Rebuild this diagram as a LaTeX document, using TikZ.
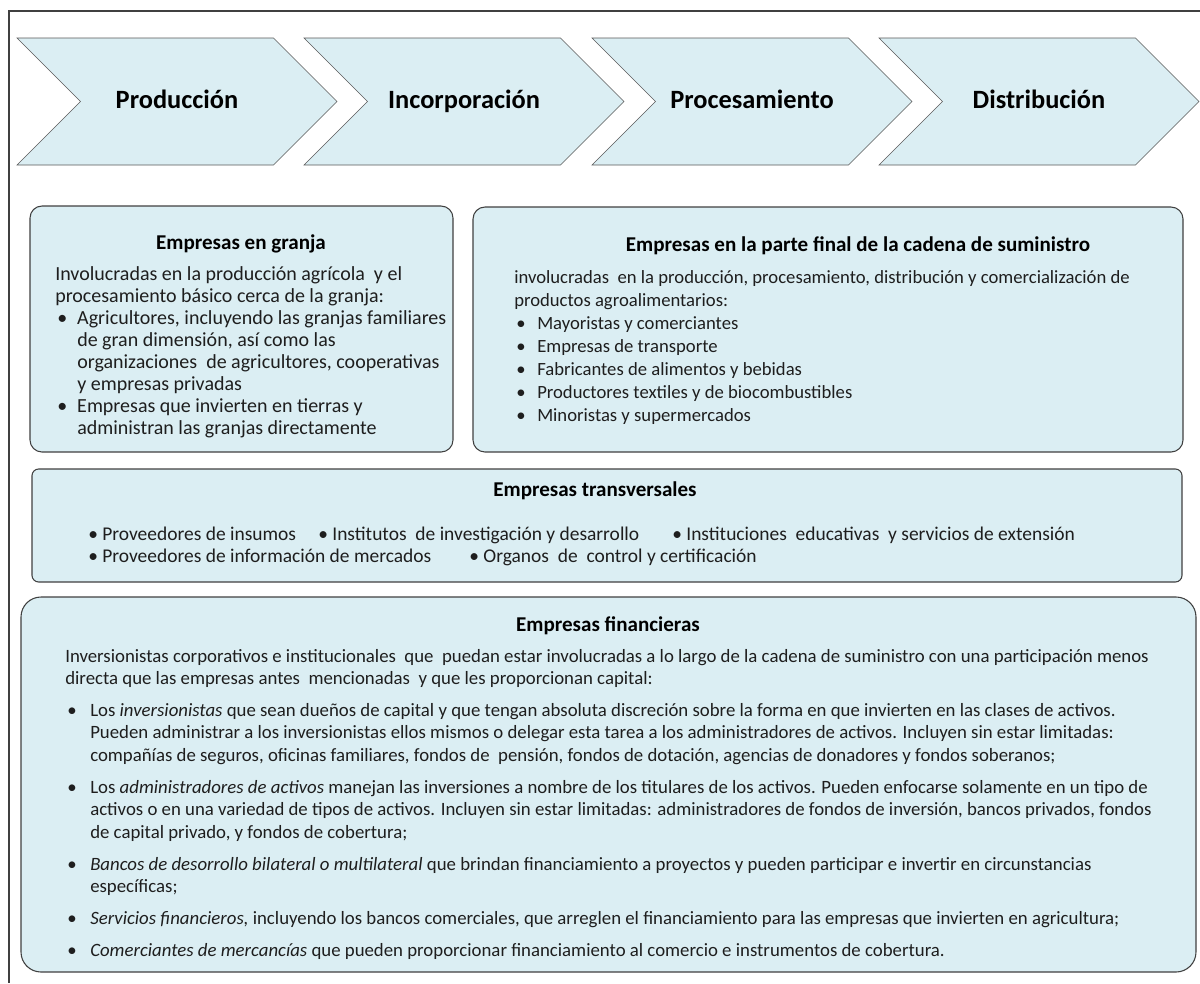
\documentclass[tikz,border=0pt]{standalone}
\usepackage{fontspec}
\setmainfont{Carlito}
\usetikzlibrary{positioning, shapes.symbols, fit}
\definecolor{paleaqua}{RGB}{219,238,243}
\definecolor{edgegray}{RGB}{64,64,64}
\definecolor{inkgray}{RGB}{30,30,30}
\newcommand{\bul}[1]{\makebox[#1][l]{\hspace{1.5pt}\textbullet}}
\newcommand{\ind}[1]{\hspace*{#1}}

\begin{document}
\begin{tikzpicture}[
            x=0.75pt, y=-0.75pt,
            chev/.style={signal, signal from=west, signal to=east, draw=gray!70!black,
                fill=paleaqua, minimum width=240pt, minimum height=95.25pt, inner sep=0pt,
                text height=12.8pt, text depth=3pt,
                font=\bfseries\fontsize{19.8}{24}\selectfont},
            card/.style={draw=edgegray, fill=paleaqua, line width=0.8pt, inner sep=0pt,
                rounded corners=9pt},
            head/.style={inner sep=0pt, anchor=base, font=\bfseries\fontsize{15.8}{18}\selectfont},
            body/.style={inner sep=0pt, anchor=base west, text=inkgray,
                font=\fontsize{15}{16.6}\selectfont},
            item/.style={inner sep=0pt, anchor=base west, text=inkgray,
                font=\fontsize{14.6}{17}\selectfont}
        ]
            \useasboundingbox (0,0) rectangle (1200,983);
            \draw[edgegray, line width=0.8pt] (1200,11) -- (9,11) -- (9,983);

            % stages of the chain
            \node[chev] (prod) at (177,101.5) {Producción};
            \node[chev] (incorp) at (464,101.5) {Incorporación};
            \node[chev] (proc) at (752,101.5) {Procesamiento};
            \node[chev] (distr) at (1039,101.5) {Distribución};

            % actor groups
            \node[card, fit={(30,206) (453,452)}] (granja) {};
            \node[card, fit={(473,207) (1183,452)}] (final) {};
            \node[card, rounded corners=5pt, fit={(32,469) (1182,582)}] (transv) {};
            \node[card, rounded corners=15pt, fit={(21,597) (1196,972)}] (finan) {};

            \node[head] (granja-t) at (241,249) {Empresas en granja};
            \node[body] (granja-b) at (55,280) {\begin{tabular}[t]{@{}l@{}}
                Involucradas en la producción agrícola \ y el\\
                procesamiento básico cerca de la granja:\\
                \bul{16.5pt}Agricultores, incluyendo las granjas familiares\\
                \ind{16.5pt}de gran dimensión, así como las\\
                \ind{16.5pt}organizaciones \ de agricultores, cooperativas\\
                \ind{16.5pt}y empresas privadas\\
                \bul{16.5pt}Empresas que invierten en tierras y\\
                \ind{16.5pt}administran las granjas directamente
                \end{tabular}};

            \node[head] (final-t) at (858,251) {Empresas en la parte final de la cadena de suministro};
            \node[body, font=\fontsize{14}{17.25}\selectfont] (final-b) at (514,283) {\begin{tabular}[t]{@{}l@{}}
                involucradas \ en la producción, procesamiento, distribución y comercialización de\\
                productos agroalimentarios:\\
                \bul{17.25pt}Mayoristas y comerciantes\\
                \bul{17.25pt}Empresas de transporte\\
                \bul{17.25pt}Fabricantes de alimentos y bebidas\\
                \bul{17.25pt}Productores textiles y de biocombustibles\\
                \bul{17.25pt}Minoristas y supermercados
                \end{tabular}};

            \node[head] (transv-t) at (595,496) {Empresas transversales};
            \node[item] (insumos) at (88,540) {\textbullet\ Proveedores de insumos};
            \node[item] (invest) at (318,540) {\textbullet\ Institutos \ de investigación y desarrollo};
            \node[item] (educ) at (672,540) {\textbullet\ Instituciones \ educativas \ y servicios de extensión};
            \node[item] (mercad) at (88,562) {\textbullet\ Proveedores de información de mercados};
            \node[item] (control) at (469,562) {\textbullet\ Organos \ de \ control y certificación};

            \node[head] (finan-t) at (608,631) {Empresas financieras};
            \node[body, font=\fontsize{14.1}{16.875}\selectfont] (finan-b) at (65,662) {\begin{tabular}[t]{@{}l@{}}
                Inversionistas corporativos e institucionales \ que \ puedan estar involucradas a lo largo de la cadena de suministro con una participación menos\\
                directa que las empresas antes \ mencionadas \ y que les proporcionan capital:\\[7.1pt]
                \bul{18.75pt}Los \textit{inversionistas} que sean dueños de capital y que tengan absoluta discreción sobre la forma en que invierten en las clases de activos.\\
                \ind{18.75pt}Pueden administrar a los inversionistas ellos mismos o delegar esta tarea a los administradores de activos. Incluyen sin estar limitadas:\\
                \ind{18.75pt}compañías de seguros, oficinas familiares, fondos de \ pensión, fondos de dotación, agencias de donadores y fondos soberanos;\\[7.1pt]
                \bul{18.75pt}Los \textit{administradores de activos} manejan las inversiones a nombre de los titulares de los activos. Pueden enfocarse solamente en un tipo de\\
                \ind{18.75pt}activos o en una variedad de tipos de activos. Incluyen sin estar limitadas: administradores de fondos de inversión, bancos privados, fondos\\
                \ind{18.75pt}de capital privado, y fondos de cobertura;\\[7.1pt]
                \bul{18.75pt}\textit{Bancos de desorrollo bilateral o multilateral} que brindan financiamiento a proyectos y pueden participar e invertir en circunstancias\\
                \ind{18.75pt}específicas;\\[7.1pt]
                \bul{18.75pt}\textit{Servicios financieros,} incluyendo los bancos comerciales, que arreglen el financiamiento para las empresas que invierten en agricultura;\\[7.1pt]
                \bul{18.75pt}\textit{Comerciantes de mercancías} que pueden proporcionar financiamiento al comercio e instrumentos de cobertura.
                \end{tabular}};
        \end{tikzpicture}
\end{document}
